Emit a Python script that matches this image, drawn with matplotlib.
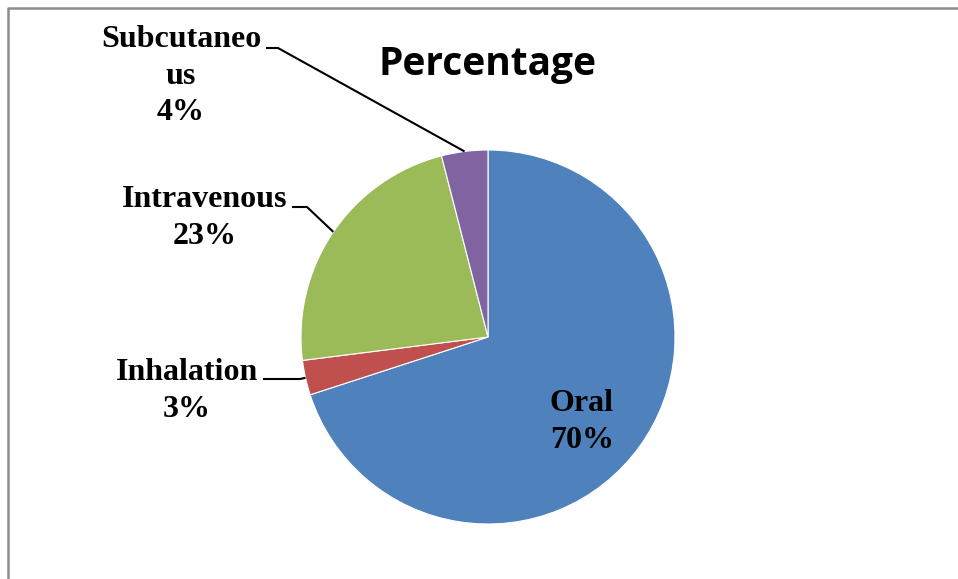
import numpy as np
import matplotlib.pyplot as plt
from matplotlib.lines import Line2D

# chart data
routes = ['Oral', 'Inhalation', 'Intravenous', 'Subcutaneous']
shares = [70, 3, 23, 4]
label_texts = ['Oral\n70%', 'Inhalation\n3%', 'Intravenous\n23%', 'Subcutaneo\nus\n4%']
colors = ['#4F81BD', '#C0504D', '#9BBB59', '#8064A2']

W, H = 958, 579
fig = plt.figure(figsize=(W / 100, H / 100), dpi=100)
ax = fig.add_axes([0, 0, 1, 1])

cx, cy, r = 488, 242, 187
wedges, _ = ax.pie(shares, colors=colors, startangle=90, counterclock=False,
                   center=(cx, cy), radius=r, frame=True,
                   wedgeprops=dict(edgecolor='white', linewidth=0.8))
ax.set_xlim(0, W)
ax.set_ylim(0, H)
ax.axis('off')

font = dict(family='Liberation Serif', weight='bold', size=23, color='black',
            ha='center', va='center', linespacing=1.32)

# label placement: text centre, end of text, elbow of leader line
label_pos = {
    'Oral': (582, 157, None, None),
    'Inhalation': (187, 188, 263, (300, 200)),
    'Intravenous': (205, 361, 292, (307, 372)),
    'Subcutaneous': (181, 503, 266, (278, 531)),
}

for w, name, txt in zip(wedges, routes, label_texts):
    tx, ty, tend, elbow = label_pos[name]
    ax.text(tx, ty, txt, **font)
    if elbow is None:
        continue
    mid = np.deg2rad((w.theta1 + w.theta2) / 2)
    px, py = cx + r * np.cos(mid), cy + r * np.sin(mid)
    ax.plot([tend, elbow[0], px], [elbow[1], elbow[1], py], color='black', lw=1.5,
            solid_capstyle='butt')

ax.text(488, 515, 'Percentage', family='Open Sans', weight='bold', size=28,
        ha='center', va='center')

# chart frame (left and top edges visible)
fig.add_artist(Line2D([8 / W, 8 / W, 1], [0, 1 - 8 / H, 1 - 8 / H],
                      transform=fig.transFigure, color='#8c8c8c', lw=1.8))

fig.savefig('out.png', dpi=100)
